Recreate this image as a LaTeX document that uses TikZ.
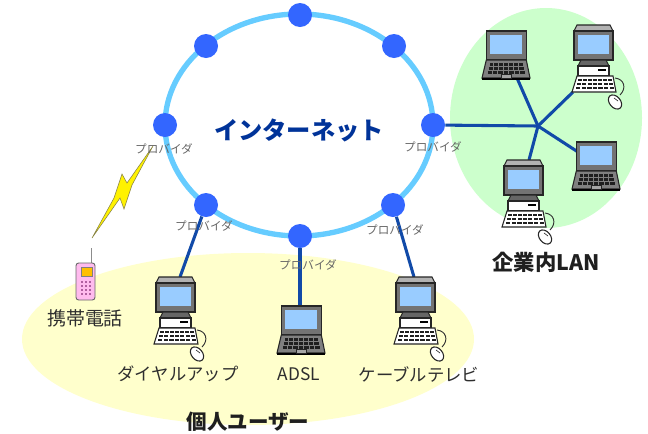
\documentclass[tikz,border=0pt]{standalone}
\usepackage{fontspec}
\setmainfont{Noto Sans CJK JP}
\begin{document}
\begin{tikzpicture}[x=0.75pt,y=-0.75pt,
  ringnode/.style={circle,fill=ringblue,draw=none,minimum size=18pt,inner sep=0pt},
  link/.style={draw=linkblue,line width=2.3pt},
  prov/.style={font=\fontsize{8.7pt}{9pt}\selectfont,text=black!60,inner sep=0pt},
  lab/.style={font=\fontsize{13pt}{14pt}\selectfont,text=black!82,inner sep=0pt},
  head/.style={font=\bfseries\fontsize{15.6pt}{17pt}\selectfont,text=black!88,inner sep=0pt},
  outl/.style={draw=black!85,line width=0.8pt},
  pics/laptop/.style={code={
    \draw[outl,line width=1.1pt,fill=black!55] (4.3,0) rectangle (44.3,29);
    \fill[screenblue] (8.3,4.3) rectangle (40,23.3);
    \draw[outl,fill=black!50] (4.3,29) -- (44.3,29) -- (48,47) -- (0,47) -- cycle;
    \fill[black] (0,46.5) rectangle (48,49);
    \foreach \r/\a/\b in {32/7/41,36/6/42,40/5/43}{
      \foreach \k in {0,...,6}{
        \fill[black!88] ({\a+\k*(\b-\a)/7+0.5},\r) rectangle ({\a+(\k+1)*(\b-\a)/7-0.5},\r+2.6);
      }
    }
    \draw[black!85,fill=black!35] (19,43.5) rectangle (29,47);
  }},
  pics/desktop/.style={code={
    \draw[outl,fill=black!30] (3,0) -- (36,0) -- (39,6) -- (0,6) -- cycle;
    \draw[outl,line width=1.1pt,fill=black!55] (0,6) rectangle (39,35);
    \fill[screenblue] (4,10) rectangle (35,29);
    \draw[outl,fill=black!60] (7,35) -- (32,35) -- (35,41) -- (4,41) -- cycle;
    \draw[outl,fill=white] (4,41) rectangle (35,51);
    \draw[black,line width=0.8pt] (24,45) -- (32,45);
    \draw[outl,fill=white] (3,51) -- (39,51) -- (42,67) -- (-2,67) -- cycle;
    \foreach \r/\a/\b in {53.5/3/39,57.5/2.5/39.5,61.5/1.5/40.5}{
      \foreach \k in {0,...,6}{
        \fill[black!88] ({\a+\k*(\b-\a)/7+0.6},\r) rectangle ({\a+(\k+1)*(\b-\a)/7-0.6},\r+2.4);
      }
    }
    \draw[black!80,line width=0.7pt] (41,53) .. controls (50,54) and (53,63) .. (46,70);
    \draw[outl,fill=white,rotate around={40:(41,77)}] (41,77) ellipse [x radius=5.5,y radius=8];
    \draw[black!80,line width=0.5pt] (40,73) -- (44,76);
  }}]
\definecolor{ringblue}{HTML}{3366FF}
\definecolor{ringline}{HTML}{66CCFF}
\definecolor{linkblue}{HTML}{114AA8}
\definecolor{screenblue}{HTML}{99CCFF}
\definecolor{greenbg}{HTML}{CCFFCC}
\definecolor{yellowbg}{HTML}{FFFFCC}
\definecolor{navy}{HTML}{003399}
\definecolor{phonepink}{HTML}{FFBBEE}
\definecolor{phonekey}{HTML}{B060A0}
\useasboundingbox (0,0) rectangle (648,433);
\fill[white] (0,0) rectangle (648,433);
% regions
\fill[greenbg] (546,118) ellipse [x radius=96,y radius=110];
\fill[yellowbg] (248,339) ellipse [x radius=226,y radius=86];
% ring
\draw[ringline,line width=4pt] (299,125) ellipse [x radius=134,y radius=111];
\node[ringnode] (n1) at (300,15) {};
\node[ringnode] (n2) at (394,46) {};
\node[ringnode] (n3) at (433,125) {};
\node[ringnode] (n4) at (393,205) {};
\node[ringnode] (n5) at (300,236) {};
\node[ringnode] (n6) at (206,205) {};
\node[ringnode] (n7) at (165,125) {};
\node[ringnode] (n8) at (206,46) {};
% attachment points
\coordinate (hub) at (538,126);
\coordinate (c1) at (517,78);
\coordinate (c2) at (573,92);
\coordinate (c3) at (578,152);
\coordinate (c4) at (529,160);
\coordinate (c5) at (180,277);
\coordinate (c6) at (300,306);
\coordinate (c7) at (414,277);
% connectors
\draw[link] (n3) -- (hub);
\draw[link] (hub) -- (c1);
\draw[link] (hub) -- (c2);
\draw[link] (hub) -- (c3);
\draw[link] (hub) -- (c4);
\draw[link] (n6) -- (c5);
\draw[link] (n5) -- (c6);
\draw[link] (n4) -- (c7);
% computers
\pic at (482,31) {laptop};
\pic at (574,25) {desktop};
\pic at (572,142) {laptop};
\pic at (504,160) {desktop};
\pic at (156,277) {desktop};
\pic at (277,306) {laptop};
\pic at (396,277) {desktop};
% lightning
\draw[draw=black!55!yellow,line width=0.4pt,fill=yellow] (153,146) -- (127,183) -- (122,174) -- (114,198) -- (92,238) -- (120,198) -- (124,209) -- (132,185) -- cycle;
% phone
\draw[black!45,line width=0.7pt] (91,248) -- (91,263);
\draw[draw=black!60,fill=phonepink,line width=0.7pt,rounded corners=2pt] (76,263) rectangle (95,300);
\draw[draw=black!50,fill=orange!50!yellow,line width=0.4pt] (81,267) rectangle (92,276);
\foreach \r in {281,285,289,293}{
  \foreach \k in {81,85,89}{
    \fill[phonekey] (\k,\r) rectangle (\k+2.4,\r+2.4);
  }
}
% text
\node[font=\bfseries\fontsize{18.2pt}{20pt}\selectfont,text=navy,inner sep=0pt] (title) at (299,130) {インターネット};
\node[prov] (p1) at (164,149) {プロバイダ};
\node[prov] (p2) at (433,147) {プロバイダ};
\node[prov] (p3) at (204,226) {プロバイダ};
\node[prov] (p4) at (308,265) {プロバイダ};
\node[prov] (p5) at (395,230) {プロバイダ};
\node[lab,font=\fontsize{14.2pt}{15pt}\selectfont] (t1) at (85,318) {携帯電話};
\node[lab] (t2) at (178,374) {ダイヤルアップ};
\node[lab] (t3) at (299,374) {ADSL};
\node[lab] (t4) at (419,374) {ケーブルテレビ};
\node[head,font=\bfseries\fontsize{16pt}{17pt}\selectfont] (t5) at (546,262) {企業内LAN};
\node[head,font=\bfseries\fontsize{15.4pt}{17pt}\selectfont] (t6) at (248,422) {個人ユーザー};
\end{tikzpicture}
\end{document}
